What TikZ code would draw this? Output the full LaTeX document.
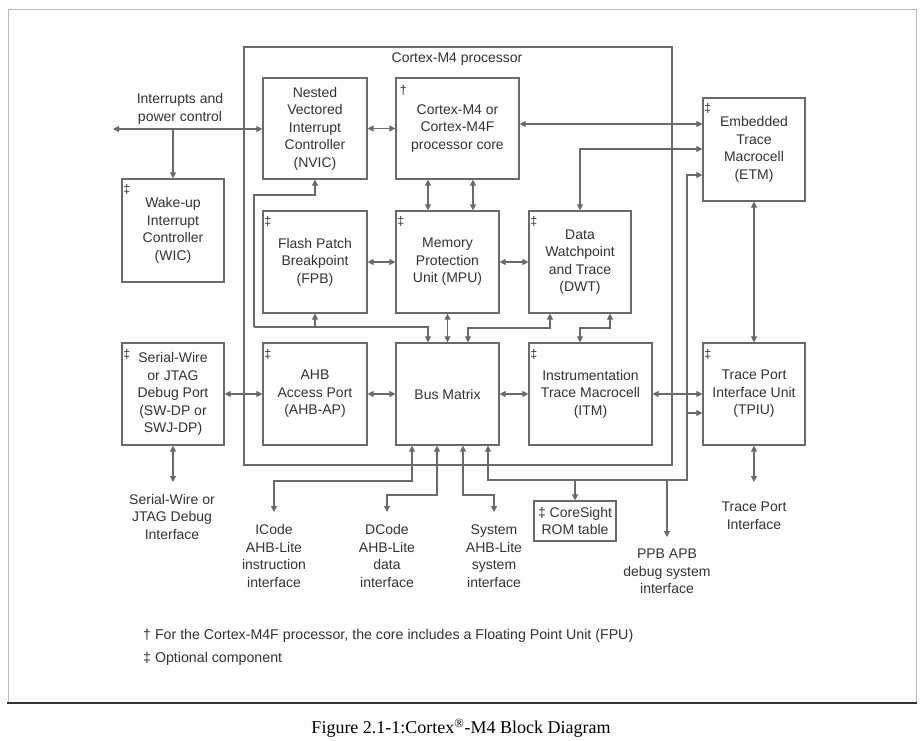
\documentclass[tikz,border=0pt]{standalone}
\usepackage{fontspec}
\setmainfont{Liberation Sans}
\newfontfamily\capfont{Liberation Serif}
\usetikzlibrary{arrows.meta,calc}
\definecolor{ln}{HTML}{6A6A6A}
\definecolor{tx}{HTML}{333333}
\begin{document}
\begin{tikzpicture}[x=1pt,y=-1pt,
  blk/.style={draw=ln, line width=1.2pt, rectangle, inner sep=0pt, align=center, text=tx, font=\fontsize{14}{17.5}\selectfont},
  lab/.style={align=center, text=tx, inner sep=0pt, font=\fontsize{14}{17.5}\selectfont},
  cn/.style={draw=ln, line width=1.1pt},
  arr/.style={cn, -{Triangle[length=6pt,width=6pt]}},
  darr/.style={cn, {Triangle[length=6pt,width=6pt]}-{Triangle[length=6pt,width=6pt]}},
  optmark/.style={text=tx, inner sep=0pt, font=\fontsize{12.5}{13}\selectfont},
  foot/.style={text=tx, inner sep=0pt, anchor=west, font=\fontsize{14.2}{16}\selectfont}
]
\useasboundingbox (0,0) rectangle (923,741);
\fill[white] (0,0) rectangle (923,741);
% outer frame
\draw[gray!55, line width=0.8pt] (8,703) -- (8,9) -- (916,9) -- (916,703);
\draw[gray!40!black, line width=2.2pt] (7,703) -- (917,703);

% processor frame
\node[draw=ln, line width=1.2pt, minimum width=428pt, minimum height=418pt, inner sep=0pt] (proc) at (458,256) {};
\node[lab] (proctitle) at (457,59) {Cortex-M4 processor};

% blocks
\node[blk, minimum width=104pt, minimum height=101pt] (nvic) at (315,128.5) {Nested\\Vectored\\Interrupt\\Controller\\(NVIC)};
\node[blk, minimum width=123pt, minimum height=101pt] (core) at (457.5,128.5) {Cortex-M4 or\\Cortex-M4F\\processor core};
\node[blk, minimum width=102pt, minimum height=103pt] (etm) at (754,149.5) {Embedded\\Trace\\Macrocell\\(ETM)};
\node[blk, minimum width=102pt, minimum height=103pt] (wic) at (173,230.5) {Wake-up\\Interrupt\\Controller\\(WIC)};
\node[blk, minimum width=104pt, minimum height=102pt] (fpb) at (315,262) {Flash Patch\\Breakpoint\\(FPB)};
\node[blk, minimum width=103pt, minimum height=102pt] (mpu) at (447.5,262) {Memory\\Protection\\Unit (MPU)};
\node[blk, minimum width=102pt, minimum height=102pt] (dwt) at (580,262) {Data\\Watchpoint\\and Trace\\(DWT)};
\node[blk, minimum width=102pt, minimum height=102pt] (swj) at (173,394) {Serial-Wire\\or JTAG\\Debug Port\\(SW-DP or\\SWJ-DP)};
\node[blk, minimum width=104pt, minimum height=102pt] (ahb) at (315,394) {AHB\\Access Port\\(AHB-AP)};
\node[blk, minimum width=103pt, minimum height=102pt] (bus) at (447.5,394) {Bus Matrix};
\node[blk, minimum width=123pt, minimum height=102pt] (itm) at (590.5,394) {Instrumentation\\Trace Macrocell\\(ITM)};
\node[blk, minimum width=102pt, minimum height=102pt] (tpiu) at (754,394) {Trace Port\\Interface Unit\\(TPIU)};
\node[blk, minimum width=82pt, minimum height=40pt] (rom) at (575,521) {‡ CoreSight\\ROM table};

% option marks
\node[optmark] (mcore) at ([shift={(8,13)}]core.north west) {†};
\foreach \b in {etm,wic,fpb,mpu,dwt,swj,ahb,itm,tpiu}
  \node[optmark] (m\b) at ([shift={(5.5,11.5)}]\b.north west) {‡};

% outside labels
\node[lab] (irqlab) at (180,109) {Interrupts and\\power control};
\node[lab] (swlab) at (172,516.5) {Serial-Wire or\\JTAG Debug\\Interface};
\node[lab] (icode) at (274,556) {ICode\\AHB-Lite\\instruction\\interface};
\node[lab] (dcode) at (387,556) {DCode\\AHB-Lite\\data\\interface};
\node[lab] (sys) at (494,556) {System\\AHB-Lite\\system\\interface};
\node[lab] (ppb) at (667,571.5) {PPB APB\\debug system\\interface};
\node[lab] (tplab) at (754,515.5) {Trace Port\\Interface};

% helper coordinates
\coordinate (irqL) at (113,129);
\coordinate (irqB) at (173,129);
\coordinate (etmA) at (0,124);
\coordinate (dwtE) at (580,149);
\coordinate (v1) at (428,0);
\coordinate (v2) at (473,0);
\coordinate (n1) at (315,195);
\coordinate (n2) at (254,195);
\coordinate (n3) at (254,327);
\coordinate (n4) at (428,327);
\coordinate (d1) at (468,328);
\coordinate (d2) at (550,328);
\coordinate (d3) at (610,328);
\coordinate (d4) at (580,328);
\coordinate (i1) at (412,481);
\coordinate (i2) at (274,481);
\coordinate (i3) at (274,512);
\coordinate (c1) at (437,495);
\coordinate (c2) at (387,495);
\coordinate (c3) at (387,512);
\coordinate (s1) at (463,495);
\coordinate (s2) at (494,495);
\coordinate (s3) at (494,512);
\coordinate (p1) at (488,480);
\coordinate (p2) at (687,480);
\coordinate (p3) at (687,175);
\coordinate (p4) at (687,413);
\coordinate (p5) at (667,480);
\coordinate (p6) at (667,537);
\coordinate (swE) at (173,482);
\coordinate (tpE) at (754,482);

% connectors
\draw[darr] (irqL) -- (nvic.west |- irqL);
\draw[arr] (irqB) -- (wic.north);
\draw[darr] (nvic.east) -- (core.west);
\draw[darr] (core.east |- etmA) -- (etm.west |- etmA);
\draw[darr] (etm.west |- dwtE) -- (dwtE) -- (dwt.north);
\draw[darr] (core.south -| v1) -- (mpu.north -| v1);
\draw[darr] (core.south -| v2) -- (mpu.north -| v2);
\draw[darr] (fpb.east) -- (mpu.west);
\draw[darr] (mpu.east) -- (dwt.west);
\draw[arr] (n3) -- (n2) -- (n1) -- (nvic.south);
\draw[arr] (n3) -- (n4) -- (bus.north -| n4);
\draw[arr] (fpb.south |- n3) -- (fpb.south);
\draw[darr] (mpu.south) -- (bus.north);
\draw[darr] (bus.north -| d1) -- (d1) -- (d2) -- (dwt.south -| d2);
\draw[darr] (dwt.south -| d3) -- (d3) -- (d4) -- (itm.north -| d4);
\draw[darr] (swj.east) -- (ahb.west);
\draw[darr] (ahb.east) -- (bus.west);
\draw[darr] (bus.east) -- (itm.west);
\draw[darr] (itm.east) -- (tpiu.west);
\draw[darr] (etm.south) -- (tpiu.north);
\draw[darr] (tpiu.south) -- (tpE);
\draw[darr] (swj.south) -- (swE);
\draw[darr] (bus.south -| i1) -- (i1) -- (i2) -- (i3);
\draw[darr] (bus.south -| c1) -- (c1) -- (c2) -- (c3);
\draw[darr] (bus.south -| s1) -- (s1) -- (s2) -- (s3);
\draw[darr] (bus.south -| p1) -- (p1) -- (p2) -- (p3) -- (etm.west |- p3);
\draw[arr] (p4) -- (tpiu.west |- p4);
\draw[arr] (rom.north |- p1) -- (rom.north);
\draw[arr] (p5) -- (p6);

% footnotes
\node[foot] (f1) at (143,636) {† For the Cortex-M4F processor, the core includes a Floating Point Unit (FPU)};
\node[foot] (f2) at (143,659) {‡ Optional component};

% caption
\node[text=black, inner sep=0pt, font=\capfont\fontsize{18}{20}\selectfont] (cap) at (461,728) {Figure 2.1-1:Cortex\textsuperscript{®}-M4 Block Diagram};
\end{tikzpicture}
\end{document}
